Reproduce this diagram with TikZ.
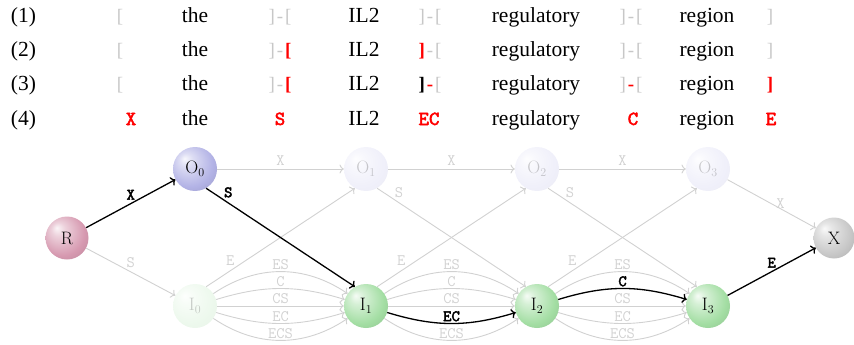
\documentclass[tikz,border=0pt]{standalone}
\usepackage{fontspec}
\newfontfamily\tnr{Liberation Serif}
\newfontfamily\ttb{lmmono10-regular}[Extension=.otf, FakeBold=2.5]
\usetikzlibrary{arrows.meta}
\definecolor{lg}{gray}{0.78}
\definecolor{eg}{gray}{0.82}
\definecolor{cR}{rgb}{0.84,0.60,0.69}
\definecolor{cO}{rgb}{0.70,0.70,0.90}
\definecolor{cI}{rgb}{0.64,0.87,0.64}
\definecolor{cX}{rgb}{0.78,0.78,0.78}
\colorlet{ballc}{white}
\pgfdeclareradialshading[ballc]{softball}{\pgfpoint{-12bp}{12bp}}{%
  color(0bp)=(ballc!10!white);
  color(8bp)=(ballc!45!white);
  color(26bp)=(ballc);
  color(42bp)=(ballc!85!black);
  color(50bp)=(ballc!72!black)}
\newcommand\gB[1]{{\color{lg}#1}}
\newcommand\rB[1]{{\color{red}\bfseries#1}}
\newcommand\kB[1]{{\color{black}\bfseries#1}}
\begin{document}
\begin{tikzpicture}[x=1pt,y=-1pt,
  ball/.style={circle, inner sep=0pt, minimum size=44pt, shading=softball,
    /utils/exec={\colorlet{ballc}{#1}}, font=\fontsize{18}{20}\selectfont},
  faded/.style={opacity=0.2},
  word/.style={font=\tnr\fontsize{21.5}{24}\selectfont, anchor=base, inner sep=0pt},
  brk/.style={font=\tnr\fontsize{19}{21}\selectfont, anchor=base, inner sep=0pt},
  tag/.style={font=\ttb\fontsize{20}{22}\selectfont, anchor=base, inner sep=0pt, text=red},
  ge/.style={draw=eg, line width=0.9pt, -{To[scale=1.2]}},
  be/.style={draw=black, line width=1.3pt, -{To[scale=1.0]}},
  gl/.style={font=\ttfamily\fontsize{16}{18}\selectfont, text=eg},
  bl/.style={font=\ttb\fontsize{16}{18}\selectfont, text=black},
]
\useasboundingbox (0,0) rectangle (854,345);

% ---- text rows
\foreach \r/\y in {1/23,2/57,3/91,4/125}{
  \node[word] (n\r) at (23.5,\y) {(\r)};
  \node[word] (the\r) at (195,\y) {the};
  \node[word] (il\r) at (364,\y) {IL2};
  \node[word] (reg\r) at (536,\y) {regulatory};
  \node[word] (rgn\r) at (707,\y) {region};
}
% row 1
\node[brk] (a1) at (120,23) {\gB[};
\node[brk] (b1) at (280,23) {\gB]\kern2pt\gB-\kern2pt\gB[};
\node[brk] (c1) at (430,23) {\gB]\kern2pt\gB-\kern2pt\gB[};
\node[brk] (d1) at (631,23) {\gB]\kern2pt\gB-\kern2pt\gB[};
\node[brk] (e1) at (770,23) {\gB]};
% row 2
\node[brk] (a2) at (120,57) {\gB[};
\node[brk] (b2) at (280,57) {\gB]\kern2pt\gB-\kern2pt\rB[};
\node[brk] (c2) at (430,57) {\rB]\kern2pt\gB-\kern2pt\gB[};
\node[brk] (d2) at (631,57) {\gB]\kern2pt\gB-\kern2pt\gB[};
\node[brk] (e2) at (770,57) {\gB]};
% row 3
\node[brk] (a3) at (120,91) {\gB[};
\node[brk] (b3) at (280,91) {\gB]\kern2pt\gB-\kern2pt\rB[};
\node[brk] (c3) at (430,91) {\kB]\kern2pt\rB-\kern2pt\gB[};
\node[brk] (d3) at (631,91) {\gB]\kern2pt\rB-\kern2pt\gB[};
\node[brk] (e3) at (770,91) {\rB]};
% row 4
\node[tag] (a4) at (131,125) {X};
\node[tag] (b4) at (280,125) {S};
\node[tag] (c4) at (429,125) {EC};
\node[tag] (d4) at (633,125) {C};
\node[tag] (e4) at (771,125) {E};

% ---- graph nodes
\node[ball=cR, minimum size=43pt] (R) at (67,238) {R};
\node[ball=cO] (O0) at (195,169) {O$_0$};
\node[ball=cO, faded] (O1) at (366,169) {O$_1$};
\node[ball=cO, faded] (O2) at (537,169) {O$_2$};
\node[ball=cO, faded] (O3) at (708,169) {O$_3$};
\node[ball=cI, faded] (I0) at (195,306) {I$_0$};
\node[ball=cI] (I1) at (366,306) {I$_1$};
\node[ball=cI] (I2) at (537,306) {I$_2$};
\node[ball=cI] (I3) at (708,306) {I$_3$};
\node[ball=cX, minimum size=41pt] (X) at (834,238) {X};

% ---- grey edges
\draw[ge] (R) -- node[gl, above]{S} (I0);
\draw[ge] (O0) -- node[gl, above]{X} (O1);
\draw[ge] (O1) -- node[gl, above]{X} (O2);
\draw[ge] (O2) -- node[gl, above]{X} (O3);
\draw[ge] (O3) -- node[gl, pos=0.6, above, inner sep=0pt]{X} (X);
\draw[ge] (O1.-60) -- node[gl, pos=0.11, above right, inner sep=1pt]{S} (I2.120);
\draw[ge] (O2.-60) -- node[gl, pos=0.11, above right, inner sep=1pt]{S} (I3.120);
\draw[ge] (I0.60) -- node[gl, pos=0.2, above left, inner sep=1pt]{E} (O1.-120);
\draw[ge] (I1.60) -- node[gl, pos=0.2, above left, inner sep=1pt]{E} (O2.-120);
\draw[ge] (I2.60) -- node[gl, pos=0.2, above left, inner sep=1pt]{E} (O3.-120);
\foreach \a/\b in {I0/I1,I1/I2,I2/I3}{
  \draw[ge] (\a) to[bend left=34] node[gl, above, inner sep=1.5pt]{ES} (\b);
  \draw[ge] (\a) -- node[gl, above, inner sep=1.5pt]{CS} (\b);
  \draw[ge] (\a) to[bend right=34] node[gl, above, inner sep=1.5pt]{ECS} (\b);
}
\foreach \a/\b in {I0/I1,I1/I2}{
  \draw[ge] (\a) to[bend left=17] node[gl, above, inner sep=1.5pt]{C} (\b);
}
\foreach \a/\b in {I0/I1,I2/I3}{
  \draw[ge] (\a) to[bend right=17] node[gl, above, inner sep=1.5pt]{EC} (\b);
}

% ---- black edges
\draw[be] (R) -- node[bl, above]{X} (O0);
\draw[be] (O0.-60) -- node[bl, pos=0.11, above right, inner sep=1pt]{S} (I1.120);
\draw[be] (I1) to[bend right=17] node[bl, above, inner sep=1.5pt]{EC} (I2);
\draw[be] (I2) to[bend left=17] node[bl, above, inner sep=1.5pt]{C} (I3);
\draw[be] (I3) -- node[bl, above]{E} (X);
\end{tikzpicture}
\end{document}
